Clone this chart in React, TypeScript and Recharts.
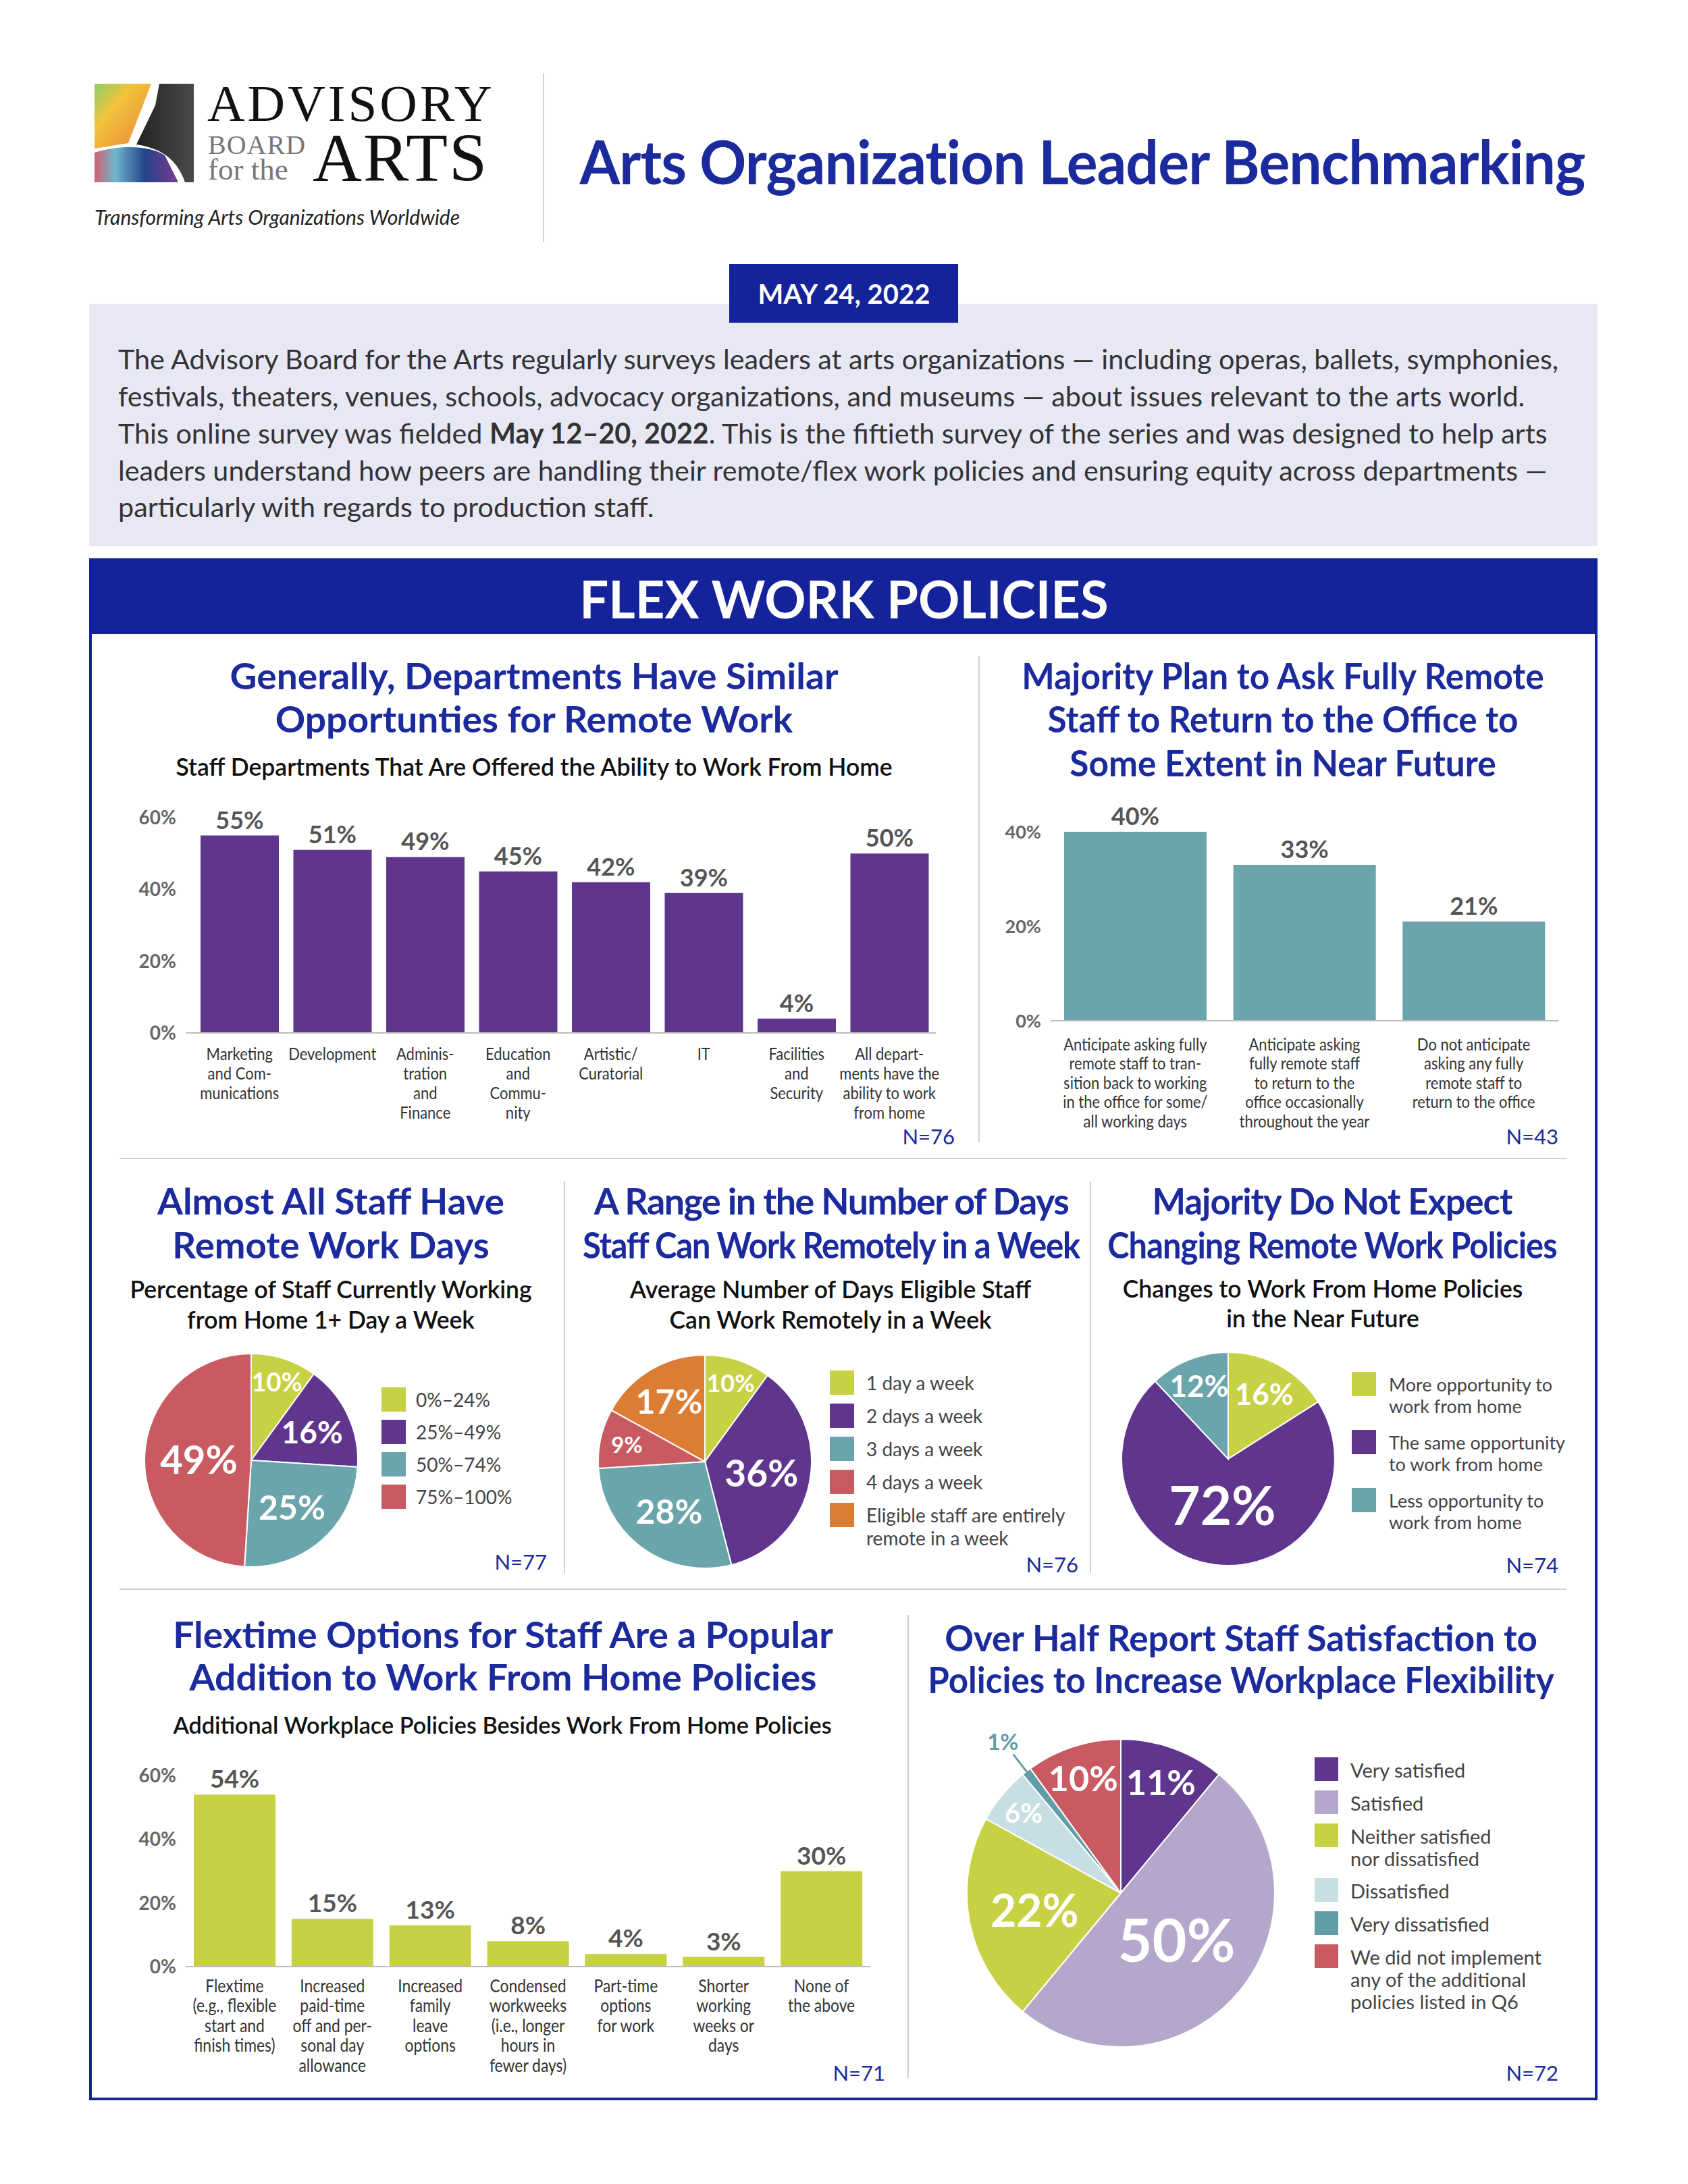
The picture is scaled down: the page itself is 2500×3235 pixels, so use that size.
import React from "react";
import { BarChart, Bar, XAxis, YAxis, LabelList, PieChart, Pie, Cell } from "recharts";

const FONT = "Lato, 'Noto Sans', sans-serif";
const NAVY = "#1b2a9c";
const PURPLE = "#5f358e";
const TEAL = "#6aa5ac";
const LIME = "#c8d144";
const RED = "#c95a62";
const ORANGE = "#dc7d34";
const LILAC = "#b4a7cb";
const PALE = "#c7dfe2";
const DTEAL = "#5f9ea5";

// Departments offered WFH
const deptCategories = [
  "Marketing\nand Com-\nmunications",
  "Development",
  "Adminis-\ntration\nand\nFinance",
  "Education\nand\nCommu-\nnity",
  "Artistic/\nCuratorial",
  "IT",
  "Facilities\nand\nSecurity",
  "All depart-\nments have the\nability to work\nfrom home",
];
const deptValues = [55, 51, 49, 45, 42, 39, 4, 50];
const deptTicks = [0, 20, 40, 60];

// Return to office
const returnCategories = [
  "Anticipate asking fully\nremote staff to tran-\nsition back to working\nin the office for some/\nall working days",
  "Anticipate asking\nfully remote staff\nto return to the\noffice occasionally\nthroughout the year",
  "Do not anticipate\nasking any fully\nremote staff to\nreturn to the office",
];
const returnValues = [40, 33, 21];
const returnTicks = [0, 20, 40];

// Share of staff working from home
const shareLabels = ["0%–24%", "25%–49%", "50%–74%", "75%–100%"];
const shareValues = [10, 16, 25, 49];

// Days per week
const daysLabels = ["1 day a week", "2 days a week", "3 days a week", "4 days a week", "Eligible staff are entirely\nremote in a week"];
const daysValues = [10, 36, 28, 9, 17];

// Policy changes
const changeLabels = ["More opportunity to\nwork from home", "The same opportunity\nto work from home", "Less opportunity to\nwork from home"];
const changeValues = [16, 72, 12];

// Additional policies
const flexCategories = [
  "Flextime\n(e.g., flexible\nstart and\nfinish times)",
  "Increased\npaid-time\noff and per-\nsonal day\nallowance",
  "Increased\nfamily\nleave\noptions",
  "Condensed\nworkweeks\n(i.e., longer\nhours in\nfewer days)",
  "Part-time\noptions\nfor work",
  "Shorter\nworking\nweeks or\ndays",
  "None of\nthe above",
];
const flexValues = [54, 15, 13, 8, 4, 3, 30];
const flexTicks = [0, 20, 40, 60];

// Satisfaction
const satLabels = ["Very satisfied", "Satisfied", "Neither satisfied\nnor dissatisfied", "Dissatisfied", "Very dissatisfied", "We did not implement\nany of the additional\npolicies listed in Q6"];
const satValues = [11, 50, 22, 6, 1, 10];

const RAD = Math.PI / 180;

type TxtProps = {
  x: number; y: number; size: number; color?: string; weight?: number;
  anchor?: "start" | "middle" | "end"; spacing?: number; sx?: number; lh?: number;
  family?: string; italic?: boolean; children: React.ReactNode;
};

function Txt({ x, y, size, color = "#333", weight = 400, anchor = "middle", spacing = 0, sx = 1, lh = 1, family = FONT, italic, children }: TxtProps) {
  const tx = anchor === "middle" ? "-50%" : anchor === "end" ? "-100%" : "0%";
  const ox = anchor === "middle" ? "50%" : anchor === "end" ? "100%" : "0%";
  return (
    <div
      style={{
        position: "absolute", left: x, top: y, transform: `translate(${tx}, -50%) scaleX(${sx})`,
        transformOrigin: `${ox} 50%`, fontSize: size, color, fontWeight: weight, letterSpacing: spacing,
        fontFamily: family, fontStyle: italic ? "italic" : "normal", lineHeight: lh, whiteSpace: "nowrap",
      }}
    >
      {children}
    </div>
  );
}

function Line({ x, y, w, h, color = "#cfcfcf" }: { x: number; y: number; w: number; h: number; color?: string }) {
  return <div style={{ position: "absolute", left: x, top: y, width: w, height: h, background: color }} />;
}

function Title({ x, ys, lines, spacing = 0, size = 53, sx = [] }: { x: number; ys: number[]; lines: string[]; spacing?: number; size?: number; sx?: number[] }) {
  return (
    <>
      {lines.map((l, i) => (
        <Txt key={i} x={x} y={ys[i]} size={size} color={NAVY} weight={700} spacing={spacing} sx={sx[i] ?? 1}>{l}</Txt>
      ))}
    </>
  );
}

function Sub({ x, ys, lines, size = 35.5 }: { x: number; ys: number[]; lines: string[]; size?: number }) {
  return (
    <>
      {lines.map((l, i) => (
        <Txt key={i} x={x} y={ys[i]} size={size} color="#111" weight={600}>{l}</Txt>
      ))}
    </>
  );
}

function makeTick(first: number, lh: number, size: number) {
  return (props: any) => {
    const { x, y, payload } = props;
    const lines = String(payload.value).split("\n");
    return (
      <g transform={`translate(${x},${y}) scale(0.88,1)`}>
        <text textAnchor="middle" fill="#333" fontSize={size} fontFamily={FONT}>
          {lines.map((l, i) => (
            <tspan key={i} x={0} y={first + i * lh}>{l}</tspan>
          ))}
        </text>
      </g>
    );
  };
}

type BarBoxProps = {
  left: number; top: number; width: number; height: number; mTop: number; mRight: number;
  yWidth: number; xHeight: number; cats: string[]; vals: number[]; ticks: number[]; color: string;
  gap: number; padLeft: number; tick: any; valueSize: number; tickSize: number;
};

function BarBox(p: BarBoxProps) {
  const data = p.cats.map((c, i) => ({ name: c, value: p.vals[i] }));
  const max = p.ticks[p.ticks.length - 1];
  return (
    <div style={{ position: "absolute", left: p.left, top: p.top }}>
      <BarChart width={p.width} height={p.height} data={data} margin={{ top: p.mTop, right: p.mRight, left: 0, bottom: 0 }} barCategoryGap={p.gap}>
        <XAxis dataKey="name" height={p.xHeight} interval={0} tickSize={0} tickMargin={0} axisLine={{ stroke: "#bdbdbd", strokeWidth: 2 }} tickLine={false} tick={p.tick} padding={{ left: p.padLeft, right: 0 }} />
        <YAxis width={p.yWidth} domain={[0, max]} ticks={p.ticks} allowDataOverflow axisLine={false} tickLine={false} tickSize={0} tickMargin={14}
          tickFormatter={(v: number) => `${v}%`} tick={{ fill: "#666", fontSize: p.tickSize, fontWeight: 700, fontFamily: FONT }} />
        <Bar dataKey="value" fill={p.color} isAnimationActive={false}>
          <LabelList dataKey="value" position="top" offset={10} formatter={(v: any) => `${v}%`}
            style={{ fill: "#555", fontSize: p.valueSize, fontWeight: 700, fontFamily: FONT }} />
        </Bar>
      </BarChart>
    </div>
  );
}

function makePieLabel(radii: number[], sizes: number[], outside: number = -1) {
  return (props: any) => {
    const { cx, cy, midAngle, outerRadius, index } = props;
    const value = props.value ?? props.payload?.value;
    const ang = -midAngle * RAD;
    if (index === outside) {
      const p1 = { x: cx + outerRadius * 0.99 * Math.cos(ang), y: cy + outerRadius * 0.99 * Math.sin(ang) };
      const p2 = { x: cx + outerRadius * 1.14 * Math.cos(ang), y: cy + outerRadius * 1.14 * Math.sin(ang) };
      const t = { x: cx + outerRadius * 1.25 * Math.cos(ang), y: cy + outerRadius * 1.25 * Math.sin(ang) };
      return (
        <g>
          <line x1={p1.x} y1={p1.y} x2={p2.x} y2={p2.y} stroke={DTEAL} strokeWidth={3} />
          <text x={t.x} y={t.y} textAnchor="middle" dominantBaseline="central" fill={DTEAL} fontSize={sizes[index]} fontWeight={700} fontFamily={FONT}>{value}%</text>
        </g>
      );
    }
    const r = outerRadius * radii[index];
    return (
      <text x={cx + r * Math.cos(ang)} y={cy + r * Math.sin(ang)} textAnchor="middle" dominantBaseline="central" fill="#fff"
        fontSize={sizes[index]} fontWeight={700} fontFamily={FONT}>{value}%</text>
    );
  };
}

function PieBox({ left, top, size, r, labels, vals, colors, label }: { left: number; top: number; size: number; r: number; labels: string[]; vals: number[]; colors: string[]; label: any }) {
  const data = labels.map((n, i) => ({ name: n, value: vals[i] }));
  return (
    <div style={{ position: "absolute", left, top }}>
      <PieChart width={size} height={size} margin={{ top: 0, right: 0, bottom: 0, left: 0 }}>
        <Pie data={data} dataKey="value" cx={size / 2} cy={size / 2} outerRadius={r} startAngle={90} endAngle={-270}
          stroke="#fff" strokeWidth={2} labelLine={false} label={label} isAnimationActive={false}>
          {data.map((d, i) => <Cell key={d.name} fill={colors[i]} />)}
        </Pie>
      </PieChart>
    </div>
  );
}

function Legend({ x, y, labels, colors, pitch, sq, gap, size, lh }: { x: number; y: number; labels: string[]; colors: string[]; pitch: number[]; sq: number; gap: number; size: number; lh: number }) {
  let cur = y;
  return (
    <>
      {labels.map((l, i) => {
        const top = cur;
        cur += pitch[i];
        const lines = l.split("\n");
        return (
          <React.Fragment key={l}>
            <div style={{ position: "absolute", left: x, top, width: sq, height: sq, background: colors[i] }} />
            {lines.map((t, j) => (
              <Txt key={j} x={x + sq + gap} y={top + sq / 2 + j * lh} size={size} color="#444" anchor="start">{t}</Txt>
            ))}
          </React.Fragment>
        );
      })}
    </>
  );
}

function N({ x, y, text }: { x: number; y: number; text: string }) {
  return <Txt x={x} y={y} size={31} color={NAVY} anchor="end">{text}</Txt>;
}

function Logo() {
  const serif = "'Liberation Serif', serif";
  return (
    <>
      <svg width={147} height={146} style={{ position: "absolute", left: 140, top: 124 }}>
        <defs>
          <linearGradient id="lgWarm" x1="0" y1="0" x2="1" y2="1">
            <stop offset="0" stopColor="#8ccf6a" />
            <stop offset="0.35" stopColor="#f3c33a" />
            <stop offset="1" stopColor="#e8813a" />
          </linearGradient>
          <linearGradient id="lgCool" x1="0" y1="0" x2="1" y2="0">
            <stop offset="0" stopColor="#d2606e" />
            <stop offset="0.25" stopColor="#6fb6cf" />
            <stop offset="0.6" stopColor="#24428c" />
            <stop offset="1" stopColor="#7d3a92" />
          </linearGradient>
          <linearGradient id="lgDark" x1="0" y1="0" x2="1" y2="0">
            <stop offset="0" stopColor="#222" />
            <stop offset="1" stopColor="#4a4a4a" />
          </linearGradient>
        </defs>
        <polygon points="0,0 84,0 50,88 0,96" fill="url(#lgWarm)" />
        <path d="M0,102 C40,90 82,92 104,106 L124,146 L0,146 Z" fill="url(#lgCool)" />
        <path d="M96,0 L147,0 L147,146 L134,146 C122,112 100,96 62,90 L90,32 Z" fill="url(#lgDark)" />
      </svg>
      <Txt x={307} y={154} size={77} color="#111" anchor="start" family={serif} spacing={4} lh={0.7}>ADVISORY</Txt>
      <Txt x={308} y={215} size={40} color="#777" anchor="start" family={serif} spacing={1} lh={0.7}>BOARD</Txt>
      <Txt x={308} y={252} size={45} color="#777" anchor="start" family={serif} lh={0.7}>for the</Txt>
      <Txt x={463} y={234} size={101} color="#111" anchor="start" family={serif} spacing={2} lh={0.7}>ARTS</Txt>
      <Txt x={140} y={321} size={30} color="#222" anchor="start" italic>Transforming Arts Organizations Worldwide</Txt>
    </>
  );
}

export default function App() {
  return (
    <div style={{ position: "absolute", left: 0, top: 0, width: 2500, height: 3235, background: "#fff", overflow: "hidden", fontFamily: FONT }}>
      <Logo />
      <Line x={804} y={108} w={2} h={250} color="#d0d0d0" />
      <Txt x={1603} y={238} size={90} color={NAVY} weight={700} spacing={-1} sx={0.955}>Arts Organization Leader Benchmarking</Txt>

      {/* intro panel */}
      <div style={{ position: "absolute", left: 132, top: 450, width: 2234, height: 359, background: "#e7e8f4" }} />
      <div style={{ position: "absolute", left: 1080, top: 391, width: 339, height: 87, background: "#14239a" }} />
      <Txt x={1250} y={435} size={40} color="#fff" weight={700}>MAY 24, 2022</Txt>
      <Txt x={175} y={532} size={41.3} anchor="start">The Advisory Board for the Arts regularly surveys leaders at arts organizations — including  operas, ballets, symphonies,</Txt>
      <Txt x={175} y={587} size={41.3} anchor="start">festivals, theaters, venues, schools, advocacy organizations, and museums — about issues relevant to the arts world.</Txt>
      <Txt x={175} y={642} size={41.3} anchor="start">This online survey was fielded <b>May 12–20, 2022</b>. This is the fiftieth survey of the series and was designed to help arts</Txt>
      <Txt x={175} y={697} size={41.3} anchor="start">leaders understand how peers are handling their remote/flex work policies and ensuring equity across departments —</Txt>
      <Txt x={175} y={751} size={41.3} anchor="start">particularly with regards to production staff.</Txt>

      {/* frame */}
      <div style={{ position: "absolute", left: 132, top: 827, width: 2234, height: 112, background: "#14239a" }} />
      <Txt x={1250} y={887} size={76} color="#fff" weight={700}>FLEX WORK POLICIES</Txt>
      <div style={{ position: "absolute", left: 132, top: 827, width: 2234, height: 2284, border: "4px solid #14239a", boxSizing: "border-box" }} />

      {/* dividers */}
      <Line x={1449} y={972} w={2} h={720} />
      <Line x={177} y={1715} w={2144} h={2} />
      <Line x={835} y={1750} w={2} h={580} />
      <Line x={1614} y={1750} w={2} h={580} />
      <Line x={177} y={2353} w={2144} h={2} />
      <Line x={1344} y={2392} w={2} h={686} />

      {/* chart 1 */}
      <Title x={791} ys={[1000, 1064]} lines={["Generally, Departments Have Similar", "Opportunties for Remote Work"]} sx={[1.04, 1.04]} />
      <Sub x={791} ys={[1136]} lines={["Staff Departments That Are Offered the Ability to Work From Home"]} />
      <BarBox left={150} top={1150} width={1260} height={560} mTop={61} mRight={24} yWidth={125} xHeight={180}
        cats={deptCategories} vals={deptValues} ticks={deptTicks} color={PURPLE} gap={11} padLeft={11}
        tick={makeTick(40, 29, 25)} valueSize={36} tickSize={28} />
      <N x={1414} y={1683} text="N=76" />

      {/* chart 2 */}
      <Title x={1900} ys={[1000, 1064, 1129]} lines={["Majority Plan to Ask Fully Remote", "Staff to Return to the Office to", "Some Extent in Near Future"]} sx={[0.97, 0.97, 0.97]} />
      <BarBox left={1430} top={1172} width={888} height={510} mTop={60} mRight={10} yWidth={126} xHeight={170}
        cats={returnCategories} vals={returnValues} ticks={returnTicks} color={TEAL} gap={20} padLeft={0}
        tick={makeTick(44, 28.5, 25)} valueSize={36} tickSize={27} />
      <N x={2308} y={1683} text="N=43" />

      {/* chart 3 */}
      <Title x={490} ys={[1778, 1843]} lines={["Almost All Staff Have", "Remote Work Days"]} sx={[1.03, 1.03]} />
      <Sub x={490} ys={[1910, 1955]} lines={["Percentage of Staff Currently Working", "from Home 1+ Day a Week"]} />
      <PieBox left={192} top={1983} size={360} r={158} labels={shareLabels} vals={shareValues} colors={[LIME, PURPLE, TEAL, RED]}
        label={makePieLabel([0.78, 0.63, 0.58, 0.49], [38, 46, 50, 58])} />
      <Legend x={565} y={2055} labels={shareLabels} colors={[LIME, PURPLE, TEAL, RED]} pitch={[48, 48, 48, 48]} sq={36} gap={15} size={28} lh={32} />
      <N x={810} y={2313} text="N=77" />

      {/* chart 4 */}
      <Title x={1231} ys={[1778, 1843]} lines={["A Range in the Number of Days", "Staff Can Work Remotely in a Week"]} spacing={-1.5} sx={[1.015, 0.93]} />
      <Sub x={1230} ys={[1910, 1955]} lines={["Average Number of Days Eligible Staff", "Can Work Remotely in a Week"]} />
      <PieBox left={864} top={1985} size={360} r={158} labels={daysLabels} vals={daysValues} colors={[LIME, PURPLE, TEAL, RED, ORANGE]}
        label={makePieLabel([0.78, 0.54, 0.57, 0.75, 0.66], [36, 55, 50, 33, 50])} />
      <Legend x={1229} y={2030} labels={daysLabels} colors={[LIME, PURPLE, TEAL, RED, ORANGE]} pitch={[49, 49, 49, 49, 49]} sq={36} gap={18} size={28} lh={34} />
      <N x={1597} y={2317} text="N=76" />

      {/* chart 5 */}
      <Title x={1973} ys={[1778, 1843]} lines={["Majority Do Not Expect", "Changing Remote Work Policies"]} spacing={-1} sx={[0.99, 0.92]} />
      <Sub x={1959} ys={[1909, 1953]} lines={["Changes to Work From Home Policies", "in the Near Future"]} />
      <PieBox left={1639} top={1981} size={360} r={158} labels={changeLabels} vals={changeValues} colors={[LIME, PURPLE, TEAL]}
        label={makePieLabel([0.7, 0.43, 0.74], [44, 80, 44])} />
      <Legend x={2002} y={2032} labels={changeLabels} colors={[LIME, PURPLE, TEAL]} pitch={[86, 86, 86]} sq={36} gap={19} size={27} lh={32} />
      <N x={2308} y={2318} text="N=74" />

      {/* chart 6 */}
      <Title x={745} ys={[2420, 2483]} lines={["Flextime Options for Staff Are a Popular", "Addition to Work From Home Policies"]} sx={[1.04, 1.04]} />
      <Sub x={744} ys={[2555]} lines={["Additional Workplace Policies Besides Work From Home Policies"]} size={34.2} />
      <BarBox left={150} top={2570} width={1149} height={513} mTop={60} mRight={10} yWidth={125} xHeight={170}
        cats={flexCategories} vals={flexValues} ticks={flexTicks} color={LIME} gap={12} padLeft={0}
        tick={makeTick(38, 29.5, 26)} valueSize={37} tickSize={28} />
      <N x={1311} y={3070} text="N=71" />

      {/* chart 7 */}
      <Title x={1838} ys={[2425, 2487]} lines={["Over Half Report Staff Satisfaction to", "Policies to Increase Workplace Flexibility"]} sx={[1, 0.965]} />
      <PieBox left={1380} top={2524} size={560} r={228} labels={satLabels} vals={satValues} colors={[PURPLE, LILAC, LIME, PALE, DTEAL, RED]}
        label={makePieLabel([0.77, 0.47, 0.57, 0.82, 1.2, 0.79], [52, 88, 66, 40, 33, 52], 4)} />
      <Legend x={1947} y={2603} labels={satLabels} colors={[PURPLE, LILAC, LIME, PALE, DTEAL, RED]} pitch={[49, 49, 81, 49, 49, 49]} sq={35} gap={18} size={29} lh={33} />
      <N x={2308} y={3070} text="N=72" />
    </div>
  );
}
